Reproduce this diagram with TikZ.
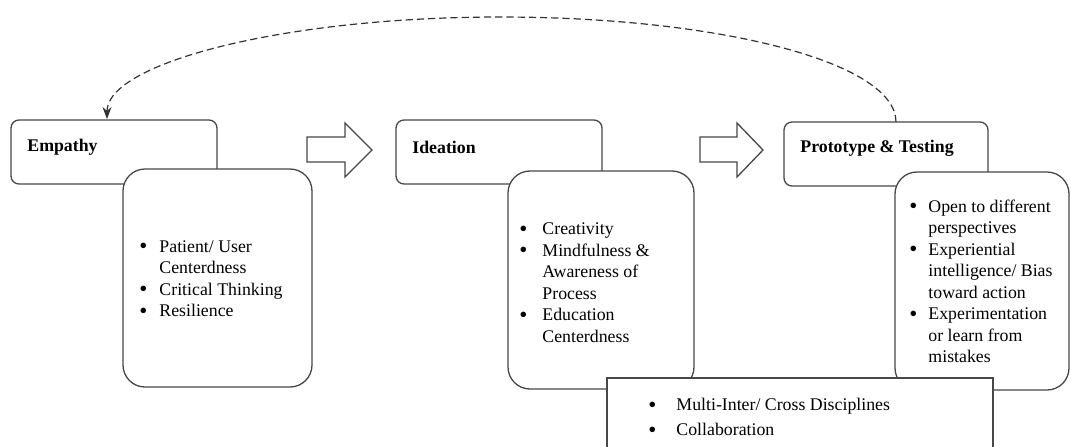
\documentclass[tikz,border=0pt]{standalone}
\usepackage{fontspec}
\setmainfont{Liberation Serif}
\usetikzlibrary{calc,arrows.meta}
\newcommand\mybul{\raisebox{-0.8pt}{\fontsize{11.5}{11.5}\selectfont\textbullet}}
\begin{document}
\begin{tikzpicture}[x=0.5pt,y=-0.5pt,
  headbox/.style={draw=black!72,line width=0.65pt,rounded corners=4pt,fill=white,inner sep=0pt,outer sep=0pt,minimum width=103pt,minimum height=32pt},
  subbox/.style={draw=black!72,line width=0.65pt,rounded corners=11pt,fill=white,inner sep=0pt,outer sep=0pt,minimum height=109pt},
  headtxt/.style={anchor=west,inner sep=0pt,font=\fontsize{8.9}{10.75}\selectfont\bfseries},
  listtxt/.style={anchor=west,inner sep=0pt,font=\fontsize{8.9}{10.75}\selectfont},
  blockarrow/.style={draw=black!72,line width=0.65pt,fill=white,line join=miter}
]
\useasboundingbox (0,0) rectangle (1071,446);
\clip (0,0) rectangle (1071,446);

% head boxes
\node[headbox] (emp) at (114,152) {};
\node[headbox] (ide) at (499,152) {};
\node[headbox,minimum width=102pt] (pro) at (886,154) {};
\node[headtxt] (emptxt) at ($(emp.west)+(16,-5)$) {Empathy};
\node[headtxt] (idetxt) at ($(ide.west)+(16,-5)$) {Ideation};
\node[headtxt] (protxt) at ($(pro.west)+(16,-6)$) {Prototype \& Testing};

% block arrows
\draw[blockarrow] (307,137) -- (345,137) -- (345,123) -- (372,150) -- (345,177) -- (345,162) -- (307,162) -- cycle;
\draw[blockarrow] (700,137) -- (737,137) -- (737,123) -- (763,150) -- (737,177) -- (737,162) -- (700,162) -- cycle;

% sub boxes
\node[subbox,minimum width=94.5pt] (empd) at (217.5,278) {};
\node[subbox,minimum width=93pt] (ided) at (601,280) {};
\node[subbox,minimum width=87pt] (prod) at (982,281) {};

\node[listtxt] (emplist) at ($(empd.west)+(16,2)$) {%
\begin{tabular}{@{}l@{\hspace{6pt}}l@{}}
\mybul & Patient/ User\\
 & Centerdness\\
\mybul & Critical Thinking\\
\mybul & Resilience
\end{tabular}};

\node[listtxt] (idelist) at ($(ided.west)+(11,4)$) {%
\begin{tabular}{@{}l@{\hspace{7.5pt}}l@{}}
\mybul & Creativity\\
\mybul & Mindfulness \&\\
 & Awareness of\\
 & Process\\
\mybul & Education\\
 & Centerdness
\end{tabular}};

\node[listtxt] (prolist) at ($(prod.west)+(14,2)$) {%
\begin{tabular}{@{}l@{\hspace{5.5pt}}l@{}}
\mybul & Open to different\\
 & perspectives\\
\mybul & Experiential\\
 & intelligence/ Bias\\
 & toward action\\
\mybul & Experimentation\\
 & or learn from\\
 & mistakes
\end{tabular}};

% bottom box
\node[draw=black!72,line width=0.65pt,fill=white,inner sep=0pt,outer sep=0pt,minimum width=193pt,minimum height=46pt] (bot) at (800,424) {};
\node[listtxt] (botlist) at (648,418) {%
\renewcommand\arraystretch{1.16}%
\begin{tabular}{@{}l@{\hspace{10pt}}l@{}}
\mybul & Multi-Inter/ Cross Disciplines\\
\mybul & Collaboration
\end{tabular}};

% dashed feedback arrow
\coordinate (ds) at ($(pro.north)+(10,0)$);
\coordinate (de) at ($(emp.north west)+(96,-1)$);
\coordinate (top) at (500,17);
\draw[black!80,line width=0.6pt,dash pattern=on 3.6pt off 2pt,-{Stealth[length=6pt,width=4.5pt]}]
  (ds) .. controls (896,62) and (718,17) .. (top)
       .. controls (284,17) and (107,63) .. (de);
\end{tikzpicture}
\end{document}
